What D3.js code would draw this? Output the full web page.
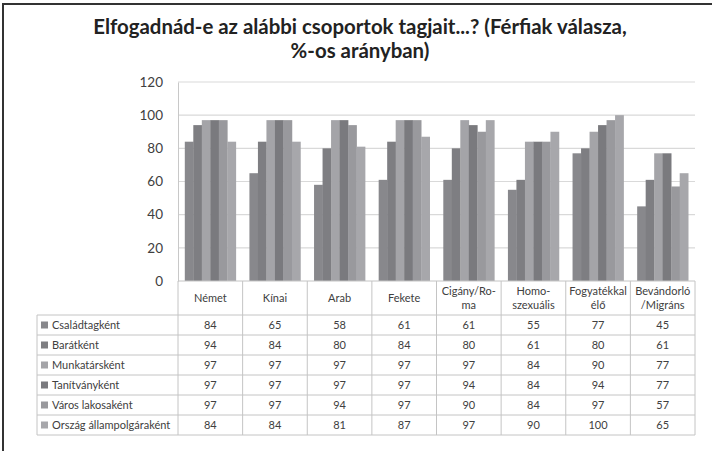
<!DOCTYPE html>
<html><head><meta charset="utf-8">
<script src="https://cdn.jsdelivr.net/npm/d3@7"></script>
<style>
html,body{margin:0;padding:0;background:#fff;}
svg{display:block;}
</style></head>
<body><svg id="c" width="712" height="451"></svg>
<script>
const titleLines = ["Elfogadnád-e az alábbi csoportok tagjait...? (Férfiak válasza,", "%-os arányban)"];
const categories = ["Német","Kínai","Arab","Fekete","Cigány/Roma","Homoszexuális","Fogyatékkal élő","Bevándorló/Migráns"];
const categoryLabels = [["Német"],["Kínai"],["Arab"],["Fekete"],["Cigány/Ro-","ma"],["Homo-","szexuális"],["Fogyatékkal","élő"],["Bevándorló","/Migráns"]];
const seriesNames = ["Családtagként","Barátként","Munkatársként","Tanítványként","Város lakosaként","Ország állampolgáraként"];
const csaladtagkent = [84,65,58,61,61,55,77,45];
const baratkent = [94,84,80,84,80,61,80,61];
const munkatarskent = [97,97,97,97,97,84,90,77];
const tanitvanykent = [97,97,97,97,94,84,94,77];
const varosLakosakent = [97,97,94,97,90,84,97,57];
const orszagAllampolgarakent = [84,84,81,87,97,90,100,65];
const seriesValues = [csaladtagkent, baratkent, munkatarskent, tanitvanykent, varosLakosakent, orszagAllampolgarakent];
const yTicks = [0,20,40,60,80,100,120];
const colors = ["#88888c","#7e7e82","#a4a4a8","#7a7a7e","#99999d","#a7a7ab"];

const svg = d3.select("#c");
const font = "Lato, 'Open Sans', sans-serif";
const txt = "#404040";

// frame
svg.append("line").attr("x1",2).attr("x2",712).attr("y1",4).attr("y2",4).attr("stroke","#333").attr("stroke-width",2);
svg.append("line").attr("x1",3).attr("x2",3).attr("y1",3).attr("y2",451).attr("stroke","#333").attr("stroke-width",2);

// title
svg.append("g").selectAll("text").data(titleLines).join("text")
  .attr("x",360).attr("y",(d,i)=>34+i*24).attr("text-anchor","middle")
  .attr("font-family",font).attr("font-weight","bold").attr("font-size",20.4).attr("fill","#222")
  .text(d=>d);

const plotL = 178, plotR = 695, plotT = 82, plotB = 281;
const x0 = d3.scaleBand().domain(categories).range([plotL, plotR]).padding(0);
const x1 = d3.scaleBand().domain(seriesNames).range([0, x0.bandwidth()]).paddingInner(0).paddingOuter(0.8);
const y = d3.scaleLinear().domain([0,120]).range([plotB, plotT]);

// gridlines
svg.append("g").selectAll("line").data(yTicks.filter(t=>t>0)).join("line")
  .attr("x1",plotL).attr("x2",plotR).attr("y1",d=>y(d)).attr("y2",d=>y(d))
  .attr("stroke","#d9d9d9").attr("stroke-width",1.2);

// y axis
const yAxis = d3.axisLeft(y).tickValues(yTicks).tickSize(0).tickPadding(15);
const ya = svg.append("g").attr("transform",`translate(${plotL},0)`).call(yAxis);
ya.select(".domain").attr("stroke","#c8c8c8");
ya.selectAll("text").attr("font-family",font).attr("font-size",13.5).attr("fill",txt);

// bars
const groups = svg.append("g").selectAll("g").data(categories).join("g")
  .attr("transform",d=>`translate(${x0(d)},0)`);
groups.selectAll("rect").data((d,ci)=>seriesNames.map((s,si)=>({s,si,v:seriesValues[si][ci]}))).join("rect")
  .attr("x",d=>x1(d.s)).attr("width",x1.bandwidth()+0.3)
  .attr("y",d=>y(d.v)).attr("height",d=>y(0)-y(d.v))
  .attr("fill",d=>colors[d.si]);

// table
const tableL = 37, headB = 315, rowH = 20;
const tableB = headB + rowH*seriesNames.length;
const lineC = "#c4c4c4";
const tg = svg.append("g");
tg.append("line").attr("x1",plotL).attr("x2",plotR).attr("y1",plotB).attr("y2",plotB).attr("stroke",lineC);
d3.range(seriesNames.length+1).forEach(i=>{
  tg.append("line").attr("x1",tableL).attr("x2",plotR).attr("y1",headB+i*rowH).attr("y2",headB+i*rowH).attr("stroke",lineC);
});
tg.append("line").attr("x1",tableL).attr("x2",tableL).attr("y1",headB).attr("y2",tableB).attr("stroke",lineC);
categories.forEach(c=>{
  tg.append("line").attr("x1",x0(c)).attr("x2",x0(c)).attr("y1",plotB).attr("y2",tableB).attr("stroke",lineC);
});
tg.append("line").attr("x1",plotR).attr("x2",plotR).attr("y1",plotB).attr("y2",tableB).attr("stroke",lineC);

// header labels
categories.forEach((c,ci)=>{
  const lines = categoryLabels[ci];
  const cx = x0(c)+x0.bandwidth()/2;
  const cy = (plotB+headB)/2;
  lines.forEach((l,li)=>{
    tg.append("text").attr("x",cx).attr("y",cy+(li-(lines.length-1)/2)*14+4)
      .attr("text-anchor","middle").attr("font-family",font).attr("font-size",11).attr("fill",txt).text(l);
  });
});

// rows
seriesNames.forEach((s,si)=>{
  const cy = headB + si*rowH + rowH/2;
  tg.append("rect").attr("x",41).attr("y",cy-3.5).attr("width",7).attr("height",7).attr("fill",colors[si]);
  tg.append("text").attr("x",52).attr("y",cy+4).attr("font-family",font).attr("font-size",11).attr("fill",txt).text(s);
  categories.forEach((c,ci)=>{
    tg.append("text").attr("x",x0(c)+x0.bandwidth()/2).attr("y",cy+4).attr("text-anchor","middle")
      .attr("font-family",font).attr("font-size",11).attr("fill",txt).text(seriesValues[si][ci]);
  });
});
</script></body></html>
